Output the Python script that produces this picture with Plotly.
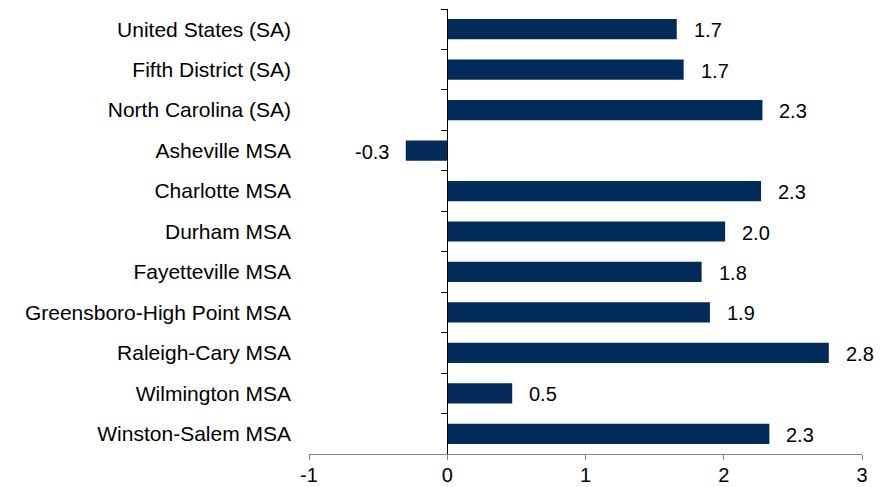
import plotly.graph_objects as go

categories = [
    "United States (SA)", "Fifth District (SA)", "North Carolina (SA)",
    "Asheville MSA", "Charlotte MSA", "Durham MSA", "Fayetteville MSA",
    "Greensboro-High Point MSA", "Raleigh-Cary MSA", "Wilmington MSA",
    "Winston-Salem MSA",
]
values = [1.66, 1.71, 2.28, -0.30, 2.27, 2.01, 1.84, 1.90, 2.76, 0.47, 2.33]
labels = [f"{v:.1f}" for v in values]
x_ticks = [-1, 0, 1, 2, 3]

BAR = "#022b5a"
FONT = dict(family="Liberation Sans, Arial, sans-serif", size=20, color="#000000")
YFONT = dict(family="Liberation Sans, Arial, sans-serif", size=21, color="#000000")

n = len(categories)
y_range = [n - 0.5, -0.5]

fig = go.Figure()
fig.add_trace(go.Bar(
    x=values, y=categories, orientation="h",
    marker=dict(color=BAR, line=dict(width=0)),
    width=0.5, hoverinfo="skip", showlegend=False,
))
# invisible trace to drive the axis drawn at x = 0
fig.add_trace(go.Scatter(
    x=values, y=categories, yaxis="y2", mode="markers",
    marker=dict(opacity=0), hoverinfo="skip", showlegend=False,
))

for c, v, t in zip(categories, values, labels):
    fig.add_annotation(
        x=v, y=c, text=t, showarrow=False,
        xanchor="left" if v >= 0 else "right",
        xshift=15 if v >= 0 else -15,
        yshift=-1,
        font=FONT,
    )

fig.update_layout(
    width=884, height=487,
    margin=dict(l=309, r=22, t=9, b=33, autoexpand=False),
    plot_bgcolor="white", paper_bgcolor="white",
    font=FONT,
    xaxis=dict(
        range=[-1, 3], tickvals=x_ticks, ticktext=[str(v) for v in x_ticks],
        showgrid=False, zeroline=False, automargin=False,
        showline=True, linecolor="#868686", linewidth=1,
        ticks="outside", ticklen=5, tickcolor="#868686",
        ticklabelstandoff=-2,
        tickfont=FONT,
    ),
    yaxis=dict(
        categoryorder="array", categoryarray=categories,
        range=y_range, automargin=False,
        showgrid=False, zeroline=False, showline=False,
        ticks="", ticklabelstandoff=17, tickfont=YFONT,
    ),
    yaxis2=dict(
        overlaying="y", anchor="free", position=0.25,
        matches="y", showticklabels=False, automargin=False,
        showgrid=False, zeroline=False,
        showline=True, linecolor="#000000", linewidth=1,
        ticks="outside", tickson="boundaries", ticklen=6, tickcolor="#000000",
    ),
    bargap=0.5,
)

fig.write_html("out.html")
